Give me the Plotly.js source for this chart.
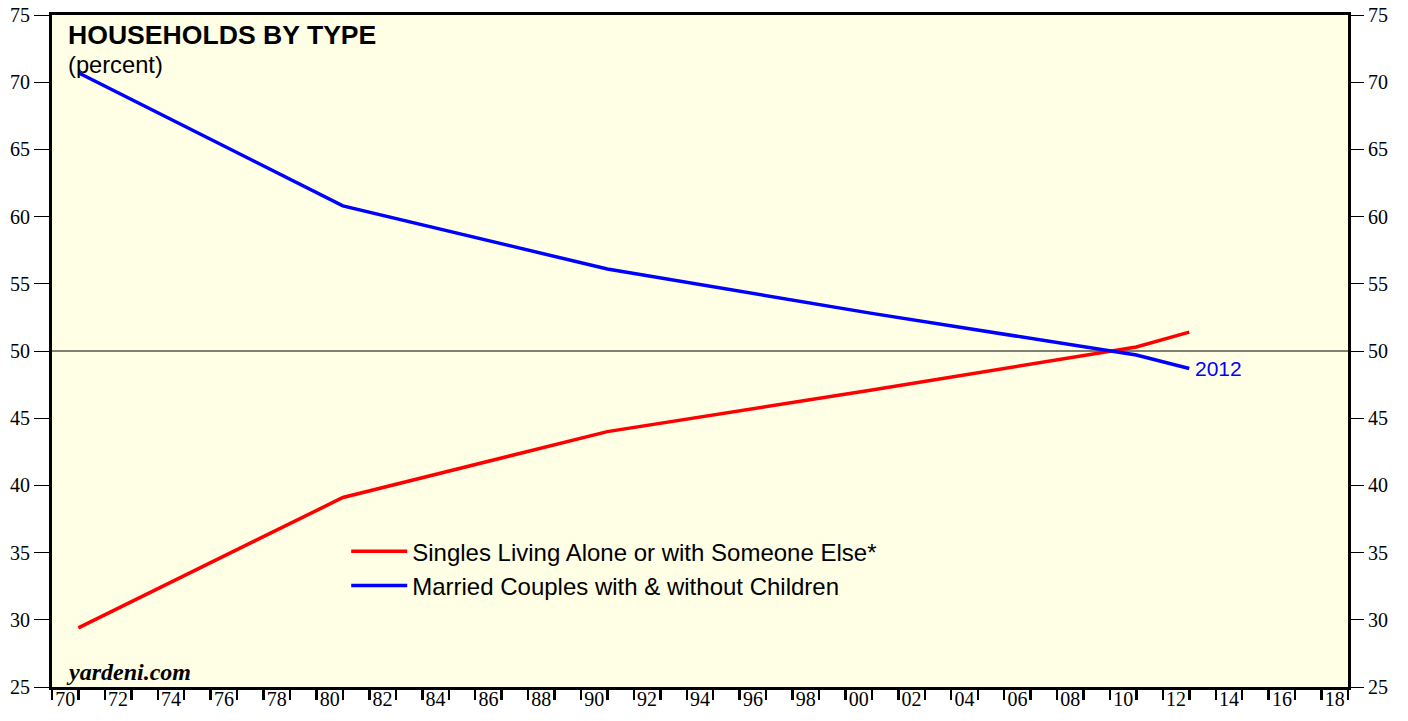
<!DOCTYPE html>
<html>
<head>
<meta charset="utf-8">
<script src="https://cdn.plot.ly/plotly-3.0.1.min.js"></script>
<style>html,body{margin:0;padding:0;background:#fff;}#chart{width:1408px;height:721px;}</style>
</head>
<body>
<div id="chart"></div>
<script>
// Data (values at year end)
const years = ['1970-12-31','1980-12-31','1990-12-31','2000-12-31','2010-12-31','2012-12-31'];
const singles = [29.4, 39.1, 44.0, 47.1, 50.3, 51.4];
const married = [70.7, 60.8, 56.1, 52.8, 49.7, 48.7];
const seriesNames = ['Singles Living Alone or with Someone Else*', 'Married Couples with & without Children'];
const xTickLabels = ['70','72','74','76','78','80','82','84','86','88','90','92','94','96','98','00','02','04','06','08','10','12','14','16','18'];
const yTicks = [25,30,35,40,45,50,55,60,65,70,75];

// hide odd-year labels
const alias = {};
for (let y = 1970; y <= 2018; y++) {
  const s = String(y % 100).padStart(2, '0');
  if (!xTickLabels.includes(s)) alias[s] = '';
}

const traces = [
  {x: years, y: singles, name: seriesNames[0], type: 'scatter', mode: 'lines',
   line: {color: '#ff0000', width: 3.5}},
  {x: years, y: married, name: seriesNames[1], type: 'scatter', mode: 'lines',
   line: {color: '#0000ff', width: 3.5}},
  {x: years, y: married, yaxis: 'y2', type: 'scatter', mode: 'lines', showlegend: false,
   hoverinfo: 'skip', line: {color: 'rgba(0,0,0,0)', width: 0}}
];

const serif = 'Liberation Serif, Times New Roman, serif';
const sans = 'Liberation Sans, Arial, sans-serif';

const layout = {
  width: 1408, height: 721,
  margin: {l: 52, r: 60, t: 15, b: 34},
  paper_bgcolor: '#ffffff',
  plot_bgcolor: '#ffffe6',
  showlegend: true,
  legend: {x: 0.227, y: 0.235, xanchor: 'left', yanchor: 'top', bgcolor: 'rgba(0,0,0,0)',
           font: {family: sans, size: 24, color: '#000'}, tracegroupgap: 0, itemwidth: 56},
  xaxis: {
    type: 'date', range: ['1970-01-01', '2019-01-01'],
    dtick: 'M12', tick0: '1970-01-01', tickformat: '%y', ticklabelmode: 'period',
    labelalias: alias,
    ticks: 'outside', ticklen: 10, tickwidth: 2.5, tickcolor: '#000',
    ticklabelstandoff: -18,
    showgrid: false, zeroline: false,
    showline: true, linewidth: 3, linecolor: '#000', mirror: true,
    tickfont: {family: serif, size: 20, color: '#000'}
  },
  yaxis: {
    range: [25, 75], tickvals: yTicks, ticks: 'outside', ticklen: 15, tickwidth: 1, tickcolor: '#000',
    showgrid: false, zeroline: false,
    showline: true, linewidth: 3, linecolor: '#000', mirror: true,
    tickfont: {family: serif, size: 20, color: '#000'}
  },
  yaxis2: {
    range: [25, 75], tickvals: yTicks, overlaying: 'y', side: 'right',
    ticks: 'outside', ticklen: 15, tickwidth: 1, tickcolor: '#000',
    showgrid: false, zeroline: false, showline: false,
    tickfont: {family: serif, size: 20, color: '#000'}
  },
  shapes: [
    {type: 'line', xref: 'paper', x0: 0, x1: 1, yref: 'y', y0: 50, y1: 50,
     line: {color: '#000', width: 1}, layer: 'below'}
  ],
  annotations: [
    {xref: 'paper', yref: 'paper', x: 0.0105, y: 0.970, xanchor: 'left', yanchor: 'middle',
     text: '<b>HOUSEHOLDS BY TYPE</b>', showarrow: false, font: {family: sans, size: 26.6, color: '#000'}},
    {xref: 'paper', yref: 'paper', x: 0.0105, y: 0.925, xanchor: 'left', yanchor: 'middle',
     text: '(percent)', showarrow: false, font: {family: sans, size: 23.7, color: '#000'}},
    {xref: 'paper', yref: 'paper', x: 0.009, y: 0.023, xanchor: 'left', yanchor: 'middle',
     text: '<b><i>yardeni.com</i></b>', showarrow: false, font: {family: serif, size: 24, color: '#000'}},
    {xref: 'x', yref: 'y', x: years[years.length - 1], y: married[married.length - 1],
     xanchor: 'left', yanchor: 'middle', xshift: 4,
     text: String(years[years.length - 1]).slice(0, 4), showarrow: false,
     font: {family: sans, size: 21, color: '#0000ff'}}
  ]
};

Plotly.newPlot('chart', traces, layout, {displayModeBar: false, staticPlot: true});
</script>
</body>
</html>
